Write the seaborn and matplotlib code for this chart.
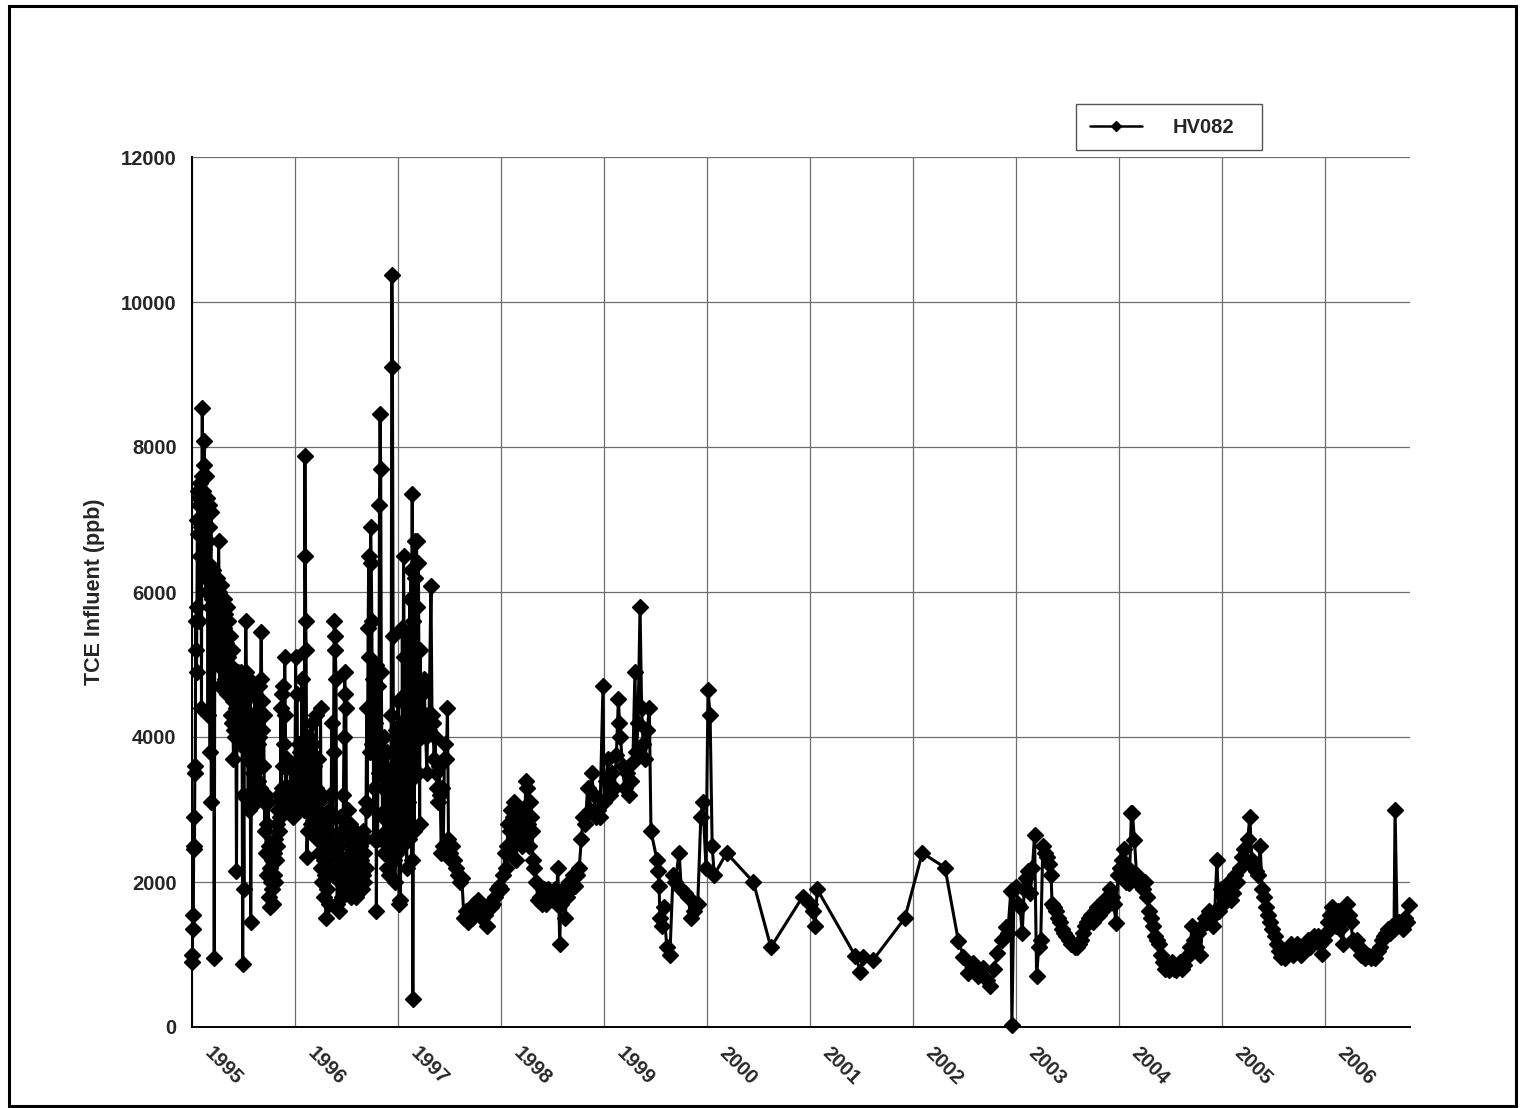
import matplotlib
matplotlib.use("Agg")
import matplotlib.pyplot as plt
import matplotlib.transforms as mtransforms
from matplotlib.patches import Rectangle
import pandas as pd
import seaborn as sns

# Sampling dates (decimal years) and TCE influent concentrations (ppb), well HV082
t1995 = [1995.000, 1995.004, 1995.008, 1995.012, 1995.016, 1995.020, 1995.024, 1995.028, 1995.032, 1995.036,
         1995.040, 1995.044, 1995.048, 1995.052, 1995.056, 1995.060, 1995.064, 1995.068, 1995.072, 1995.076,
         1995.080, 1995.084, 1995.088, 1995.092, 1995.096, 1995.100, 1995.104, 1995.108, 1995.112, 1995.116,
         1995.120, 1995.124, 1995.128, 1995.132, 1995.136, 1995.140, 1995.144, 1995.148, 1995.152, 1995.156,
         1995.160, 1995.164, 1995.168, 1995.172, 1995.176, 1995.180, 1995.184, 1995.188, 1995.192, 1995.196,
         1995.200, 1995.205, 1995.210, 1995.216, 1995.222, 1995.228, 1995.234, 1995.240, 1995.246, 1995.252,
         1995.258, 1995.264, 1995.270, 1995.276, 1995.282, 1995.288, 1995.294, 1995.300, 1995.306, 1995.312,
         1995.318, 1995.324, 1995.330, 1995.336, 1995.342, 1995.348, 1995.354, 1995.360, 1995.366, 1995.372,
         1995.378, 1995.384, 1995.390, 1995.396, 1995.402, 1995.408, 1995.414, 1995.420, 1995.426, 1995.432,
         1995.438, 1995.444, 1995.450, 1995.456, 1995.462, 1995.468, 1995.474, 1995.480, 1995.486, 1995.492,
         1995.498, 1995.504, 1995.510, 1995.516, 1995.522, 1995.528, 1995.534, 1995.540, 1995.546, 1995.552,
         1995.558, 1995.564, 1995.570, 1995.576, 1995.582, 1995.588, 1995.594, 1995.600, 1995.606, 1995.612,
         1995.618, 1995.624, 1995.630, 1995.636, 1995.642, 1995.648, 1995.654, 1995.660, 1995.666, 1995.672,
         1995.678, 1995.684, 1995.690, 1995.696, 1995.702, 1995.708, 1995.714, 1995.720, 1995.726, 1995.732,
         1995.738, 1995.744, 1995.750, 1995.756, 1995.762, 1995.768, 1995.774, 1995.780, 1995.786, 1995.792,
         1995.798, 1995.804, 1995.810, 1995.816, 1995.822, 1995.828, 1995.834, 1995.840, 1995.846, 1995.852,
         1995.858, 1995.864, 1995.870, 1995.876, 1995.882, 1995.888, 1995.894, 1995.900, 1995.906, 1995.912,
         1995.918, 1995.924, 1995.930, 1995.936, 1995.942, 1995.948, 1995.954, 1995.960, 1995.966, 1995.972,
         1995.978, 1995.984, 1995.990, 1995.996]
v1995 = [900, 1000, 1550, 1350, 2450, 2900, 2500, 3600, 3500, 5600,
         5200, 4900, 5800, 7000, 7400, 6800, 7300, 5600, 7200, 6500,
         7500, 6900, 7300, 4400, 7600, 8540, 7200, 7400, 6600, 7750,
         8080, 7100, 6300, 7600, 6900, 6200, 7300, 6000, 6700, 4300,
         6400, 7200, 6900, 5800, 3800, 6300, 7100, 3100, 6100, 5900,
         6300, 6000, 5700, 950, 6200, 5800, 5300, 6200, 5600, 5000,
         6700, 6000, 4700, 5400, 6100, 5800, 5200, 4700, 5900, 5500,
         4800, 5700, 5300, 4600, 5800, 5100, 5600, 4900, 5400, 5000,
         4300, 5200, 4200, 4500, 3700, 4100, 4700, 4000, 4400, 2150,
         4600, 4900, 4300, 4800, 3900, 4500, 4700, 4900, 4200, 870,
         3200, 1900, 4800, 4500, 5600, 4900, 3700, 4200, 3200, 4800,
         3000, 4600, 1450, 3100, 4000, 3500, 4300, 3100, 3800, 4600,
         3600, 3100, 4200, 3900, 3400, 4700, 4000, 3300, 4800, 5450,
         4500, 4100, 3600, 4300, 3100, 2700, 3200, 2400, 2800, 2100,
         3100, 2500, 1800, 2200, 1650, 2000, 1900, 2300, 1700, 2100,
         2400, 2000, 2600, 2300, 2800, 2500, 3000, 2700, 3200, 2900,
         3100, 4400, 3300, 4600, 3600, 4700, 3900, 5100, 4300, 3200,
         3700, 3000, 3300, 3100, 3000, 3200, 3150, 3600, 3100, 3250,
         2900, 3100, 3200, 3300]

t1996 = [1996.000, 1996.006, 1996.012, 1996.018, 1996.024, 1996.030, 1996.036, 1996.042, 1996.048, 1996.054,
         1996.060, 1996.066, 1996.072, 1996.078, 1996.084, 1996.090, 1996.096, 1996.100, 1996.104, 1996.108,
         1996.112, 1996.116, 1996.122, 1996.128, 1996.134, 1996.140, 1996.146, 1996.152, 1996.158, 1996.164,
         1996.170, 1996.176, 1996.182, 1996.188, 1996.194, 1996.200, 1996.206, 1996.212, 1996.218, 1996.224,
         1996.230, 1996.236, 1996.242, 1996.248, 1996.254, 1996.260, 1996.266, 1996.272, 1996.278, 1996.284,
         1996.290, 1996.296, 1996.302, 1996.308, 1996.314, 1996.320, 1996.326, 1996.332, 1996.338, 1996.344,
         1996.350, 1996.356, 1996.362, 1996.368, 1996.374, 1996.380, 1996.386, 1996.392, 1996.398, 1996.404,
         1996.410, 1996.416, 1996.422, 1996.428, 1996.434, 1996.440, 1996.446, 1996.452, 1996.458, 1996.464,
         1996.470, 1996.476, 1996.482, 1996.488, 1996.494, 1996.500, 1996.506, 1996.512, 1996.518, 1996.524,
         1996.530, 1996.536, 1996.542, 1996.548, 1996.554, 1996.560, 1996.566, 1996.572, 1996.578, 1996.584,
         1996.590, 1996.596, 1996.602, 1996.608, 1996.614, 1996.620, 1996.626, 1996.632, 1996.638, 1996.644,
         1996.650, 1996.656, 1996.662, 1996.668, 1996.674, 1996.680, 1996.686, 1996.690, 1996.696, 1996.702,
         1996.710, 1996.716, 1996.722, 1996.728, 1996.734, 1996.740, 1996.746, 1996.752, 1996.758, 1996.764,
         1996.770, 1996.776, 1996.782, 1996.790, 1996.796, 1996.802, 1996.808, 1996.814, 1996.820, 1996.826,
         1996.832, 1996.838, 1996.844, 1996.850, 1996.856, 1996.862, 1996.868, 1996.874, 1996.880, 1996.886,
         1996.892, 1996.898, 1996.904, 1996.910, 1996.916, 1996.922, 1996.928, 1996.934, 1996.940, 1996.946,
         1996.952, 1996.958, 1996.964, 1996.970, 1996.976, 1996.982, 1996.988, 1996.994]
v1996 = [3500, 5100, 3200, 4600, 3600, 3000, 3900, 3400, 3800, 3100,
         3500, 4800, 3300, 3700, 3000, 3500, 7870, 6500, 5600, 5200,
         4000, 2350, 2700, 3500, 4000, 3100, 3800, 2800, 3400, 4200,
         3100, 3900, 2900, 3600, 2700, 3300, 4300, 3000, 2600, 3700,
         2400, 3100, 2900, 4400, 2200, 3200, 2000, 2800, 2300, 1800,
         2600, 2100, 1500, 2400, 1900, 2700, 3000, 1700, 2200, 3200,
         2500, 4200, 2900, 2100, 3800, 5600, 5400, 5200, 4800, 2400,
         1700, 2200, 2600, 1600, 2000, 2900, 2300, 1800, 2700, 2100,
         3200, 4000, 4900, 4600, 4400, 2800, 2200, 3000, 1900, 2500,
         2300, 2800, 1800, 2200, 2600, 2000, 2400, 1900, 2300, 2700,
         2100, 1800, 2400, 2000, 2600, 2200, 1900, 2500, 2100, 2300,
         1900, 2700, 2100, 2400, 2000, 2600, 2200, 3100, 4400, 3000,
         5500, 6500, 5100, 3800, 6900, 6400, 5600, 3900, 4800, 2600,
         3300, 4200, 5000, 1600, 3800, 2600, 4700, 3500, 7200, 8450,
         7700, 4900, 3600, 2900, 3300, 2400, 4000, 3000, 2700, 3400,
         2200, 3800, 2500, 3100, 2100, 3500, 2600, 4300, 10370, 9100,
         5400, 2300, 3600, 2000, 4100, 2800, 3300, 2400]

t1997 = [1997.000, 1997.006, 1997.012, 1997.018, 1997.024, 1997.030, 1997.036, 1997.042, 1997.048, 1997.054,
         1997.060, 1997.066, 1997.072, 1997.078, 1997.084, 1997.090, 1997.096, 1997.102, 1997.108, 1997.114,
         1997.120, 1997.126, 1997.132, 1997.138, 1997.144, 1997.150, 1997.156, 1997.162, 1997.168, 1997.174,
         1997.180, 1997.186, 1997.192, 1997.198, 1997.204, 1997.210, 1997.216, 1997.222, 1997.230, 1997.240,
         1997.250, 1997.256, 1997.262, 1997.270, 1997.280, 1997.290, 1997.300, 1997.320, 1997.330, 1997.340,
         1997.350, 1997.360, 1997.370, 1997.380, 1997.390, 1997.400, 1997.410, 1997.420, 1997.430, 1997.440,
         1997.450, 1997.460, 1997.470, 1997.480, 1997.490, 1997.500, 1997.510, 1997.520, 1997.540, 1997.560,
         1997.580, 1997.600, 1997.620, 1997.640, 1997.660, 1997.680, 1997.700, 1997.720, 1997.740, 1997.760,
         1997.780, 1997.800, 1997.820, 1997.840, 1997.860, 1997.880, 1997.900, 1997.920, 1997.940, 1997.960,
         1997.980]
v1997 = [4500, 2900, 1700, 3600, 1750, 4200, 2500, 5500, 3300, 6500,
         5100, 2700, 4600, 3900, 2200, 5400, 3100, 4900, 2600, 5900,
         3400, 6300, 2300, 7350, 380, 5600, 2700, 6200, 6700, 4300,
         6700, 5800, 3500, 6400, 4800, 2800, 5200, 4000, 4600, 4200,
         4800, 4700, 4300, 4000, 3500, 4300, 4100, 6080, 4300, 4200,
         3700, 4000, 3500, 3300, 3100, 3600, 3200, 2400, 3300, 2500,
         3700, 3900, 3700, 4400, 2600, 2400, 2300, 2500, 2300, 2200,
         2100, 2000, 2050, 1500, 1600, 1450, 1550, 1500, 1700, 1600,
         1750, 1650, 1500, 1550, 1400, 1700, 1650, 1700, 1800, 1900,
         1950]

t1998 = [1998.000, 1998.020, 1998.040, 1998.050, 1998.060, 1998.070, 1998.080, 1998.090, 1998.100, 1998.110,
         1998.120, 1998.130, 1998.140, 1998.150, 1998.160, 1998.170, 1998.180, 1998.190, 1998.200, 1998.210,
         1998.220, 1998.230, 1998.240, 1998.250, 1998.260, 1998.270, 1998.280, 1998.290, 1998.300, 1998.310,
         1998.320, 1998.340, 1998.360, 1998.380, 1998.400, 1998.420, 1998.440, 1998.460, 1998.480, 1998.500,
         1998.520, 1998.540, 1998.550, 1998.560, 1998.570, 1998.580, 1998.600, 1998.620, 1998.640, 1998.660,
         1998.680, 1998.700, 1998.720, 1998.740, 1998.760, 1998.780, 1998.800, 1998.820, 1998.840, 1998.860,
         1998.880, 1998.900, 1998.920, 1998.940, 1998.960, 1998.990]
v1998 = [1900, 2100, 2400, 2200, 2500, 2800, 2400, 2700, 3000, 2500,
         2900, 3100, 2700, 2300, 2800, 3000, 2600, 2900, 2500, 2800,
         3000, 2600, 3400, 3300, 2800, 2500, 3100, 2900, 2700, 2300,
         2200, 2000, 1750, 1800, 1700, 1900, 1700, 1900, 1800, 1750,
         1900, 1700, 2200, 1800, 1150, 1700, 1900, 1500, 1800, 2000,
         1900, 2100, 1950, 2100, 2200, 2600, 2900, 2800, 3300, 3000,
         3500, 3200, 2900, 3000, 2900, 4700]

t1999 = [1999.000, 1999.020, 1999.040, 1999.060, 1999.080, 1999.100, 1999.120, 1999.140, 1999.150, 1999.160,
         1999.180, 1999.200, 1999.220, 1999.240, 1999.260, 1999.280, 1999.300, 1999.315, 1999.330, 1999.350,
         1999.365, 1999.380, 1999.400, 1999.420, 1999.440, 1999.456, 1999.515, 1999.525, 1999.534, 1999.544,
         1999.560, 1999.580, 1999.610, 1999.640, 1999.670, 1999.690, 1999.730, 1999.750, 1999.790, 1999.820,
         1999.840, 1999.870, 1999.910, 1999.940, 1999.960, 1999.990]
v1999 = [3100, 3400, 3700, 3200, 3500, 3300, 3750, 4530, 4200, 4000,
         3600, 3300, 3500, 3200, 3400, 3650, 4900, 3800, 4200, 5800,
         4400, 3900, 3700, 4100, 4400, 2700, 2300, 2150, 1950, 1500,
         1400, 1650, 1100, 1000, 2100, 2000, 2400, 1900, 1850, 1800,
         1500, 1600, 1700, 2900, 3100, 2200]

t2000_02 = [2000.010, 2000.030, 2000.050, 2000.070, 2000.190, 2000.450, 2000.620, 2000.930, 2001.000, 2001.030,
            2001.050, 2001.070, 2001.440, 2001.490, 2001.510, 2001.610, 2001.920, 2002.090, 2002.310, 2002.440,
            2002.490, 2002.530, 2002.580, 2002.630, 2002.680, 2002.720, 2002.750, 2002.790, 2002.820, 2002.860,
            2002.900, 2002.920, 2002.950, 2002.960, 2002.980]
v2000_02 = [4650, 4300, 2500, 2100, 2400, 2000, 1100, 1800, 1700, 1600,
            1400, 1900, 980, 760, 970, 920, 1500, 2400, 2200, 1190,
            970, 740, 880, 700, 820, 650, 560, 800, 1020, 1200,
            1380, 1300, 1880, 25, 1900]

t2003 = [2003.00, 2003.02, 2003.04, 2003.06, 2003.08, 2003.10, 2003.12, 2003.14, 2003.16, 2003.18,
         2003.20, 2003.22, 2003.24, 2003.26, 2003.28, 2003.30, 2003.32, 2003.34, 2003.35, 2003.37,
         2003.39, 2003.41, 2003.43, 2003.45, 2003.47, 2003.49, 2003.51, 2003.53, 2003.55, 2003.57,
         2003.59, 2003.61, 2003.63, 2003.65, 2003.67, 2003.69, 2003.71, 2003.73, 2003.75, 2003.77,
         2003.79, 2003.81, 2003.83, 2003.85, 2003.87, 2003.89, 2003.91, 2003.93, 2003.95, 2003.97,
         2003.99]
v2003 = [1930, 1700, 1650, 1290, 1900, 2050, 2150, 1850, 2200, 2650,
         700, 1100, 1200, 2500, 2400, 2350, 2250, 2100, 1700, 1650,
         1600, 1500, 1450, 1350, 1300, 1250, 1200, 1150, 1150, 1100,
         1100, 1150, 1200, 1300, 1400, 1450, 1500, 1550, 1450, 1600,
         1650, 1550, 1700, 1750, 1650, 1800, 1900, 1800, 1700, 1430,
         2100]

t2004 = [2004.01, 2004.03, 2004.05, 2004.07, 2004.09, 2004.10, 2004.12, 2004.13, 2004.15, 2004.17,
         2004.19, 2004.21, 2004.23, 2004.25, 2004.27, 2004.29, 2004.31, 2004.33, 2004.35, 2004.37,
         2004.39, 2004.41, 2004.43, 2004.45, 2004.47, 2004.49, 2004.51, 2004.53, 2004.55, 2004.57,
         2004.59, 2004.61, 2004.63, 2004.65, 2004.67, 2004.69, 2004.71, 2004.73, 2004.75, 2004.77,
         2004.79, 2004.81, 2004.83, 2004.85, 2004.87, 2004.89, 2004.91, 2004.93, 2004.95, 2004.97,
         2004.99]
v2004 = [2200, 2300, 2450, 2000, 2200, 1980, 2950, 2950, 2580, 2100,
         2000, 1950, 1900, 2000, 1800, 1600, 1500, 1400, 1250, 1200,
         1150, 1000, 900, 800, 850, 780, 900, 800, 780, 850,
         900, 800, 850, 950, 1000, 1100, 1400, 1200, 1100, 1300,
         1000, 1400, 1500, 1450, 1600, 1500, 1400, 1600, 2300, 1600,
         1900]

t2005 = [2005.01, 2005.03, 2005.05, 2005.07, 2005.09, 2005.11, 2005.13, 2005.15, 2005.17, 2005.19,
         2005.21, 2005.23, 2005.25, 2005.27, 2005.29, 2005.31, 2005.33, 2005.35, 2005.37, 2005.39,
         2005.41, 2005.43, 2005.45, 2005.47, 2005.49, 2005.51, 2005.53, 2005.55, 2005.57, 2005.59,
         2005.61, 2005.63, 2005.65, 2005.67, 2005.69, 2005.71, 2005.73, 2005.75, 2005.77, 2005.79,
         2005.81, 2005.83, 2005.85, 2005.87, 2005.89, 2005.91, 2005.93, 2005.95, 2005.97, 2005.99]
v2005 = [1700, 1800, 1900, 2000, 1750, 1850, 2100, 2000, 2200, 2350,
         2450, 2300, 2600, 2900, 2300, 2200, 2150, 2100, 2500, 1900,
         1800, 1650, 1550, 1450, 1350, 1250, 1150, 1050, 970, 1000,
         950, 1050, 1100, 1150, 1000, 1100, 1150, 1050, 1000, 1100,
         1150, 1200, 1100, 1150, 1250, 1200, 1250, 1150, 1010, 1200]

t2006 = [2006.01, 2006.03, 2006.05, 2006.07, 2006.09, 2006.11, 2006.13, 2006.15, 2006.17, 2006.19,
         2006.21, 2006.23, 2006.25, 2006.27, 2006.29, 2006.31, 2006.33, 2006.35, 2006.37, 2006.39,
         2006.41, 2006.43, 2006.45, 2006.47, 2006.49, 2006.51, 2006.53, 2006.55, 2006.57, 2006.59,
         2006.61, 2006.63, 2006.65, 2006.67, 2006.68, 2006.70, 2006.72, 2006.74, 2006.76, 2006.78,
         2006.80, 2006.82]
v2006 = [1300, 1450, 1550, 1650, 1500, 1400, 1600, 1350, 1150, 1500,
         1700, 1550, 1450, 1200, 1150, 1200, 1100, 1000, 1050, 950,
         1000, 980, 950, 1000, 950, 1050, 1100, 1200, 1250, 1300,
         1350, 1300, 1400, 1350, 3000, 1400, 1450, 1400, 1350, 1500,
         1450, 1680]

year_ticks = [1995, 1996, 1997, 1998, 1999, 2000, 2001, 2002, 2003, 2004, 2005, 2006]
year_labels = [str(y) for y in year_ticks]
conc_ticks = [0, 2000, 4000, 6000, 8000, 10000, 12000]

dates = t1995 + t1996 + t1997 + t1998 + t1999 + t2000_02 + t2003 + t2004 + t2005 + t2006
conc = v1995 + v1996 + v1997 + v1998 + v1999 + v2000_02 + v2003 + v2004 + v2005 + v2006
df = pd.DataFrame({"date": dates, "tce": conc})

sns.set_style("white")
plt.rcParams["font.family"] = ["Liberation Sans", "DejaVu Sans"]
plt.rcParams["font.weight"] = "bold"

W, H = 1524, 1108
fig = plt.figure(figsize=(W / 100, H / 100), dpi=100)
fig.patch.set_facecolor("white")

left, right, top, bottom = 192, 1410, 157, 1027
ax = fig.add_axes([left / W, 1 - bottom / H, (right - left) / W, (bottom - top) / H])

sns.lineplot(data=df, x="date", y="tce", ax=ax, color="black", linewidth=2.2,
             marker="D", markersize=7.8, markeredgecolor="black", markerfacecolor="black",
             markeredgewidth=1.0, estimator=None, sort=False, label="HV082", zorder=3)
for ln in ax.get_lines():
    ln.set_clip_on(False)

ax.set_xlim(1995.0, 2006.825)
ax.set_ylim(0, 12000)
ax.set_xticks(year_ticks)
ax.set_xticklabels(year_labels)
ax.set_yticks(conc_ticks)
ax.set_yticklabels([str(v) for v in conc_ticks])

ax.grid(True, color="#6e6e6e", linewidth=0.9, zorder=0)
ax.set_axisbelow(True)
for side in ("top", "right"):
    ax.spines[side].set_visible(False)
for side in ("left", "bottom"):
    ax.spines[side].set_color("black")
    ax.spines[side].set_linewidth(1.4)

ax.tick_params(axis="both", which="major", direction="out", length=5, width=1.0,
               color="black", labelsize=14.5)
ax.tick_params(axis="y", pad=6)
ax.tick_params(axis="x", pad=7)

offset = mtransforms.ScaledTranslation(16 / 72, 0, fig.dpi_scale_trans)
for lab in ax.get_xticklabels():
    lab.set_rotation(-45)
    lab.set_ha("left")
    lab.set_va("top")
    lab.set_rotation_mode("anchor")
    lab.set_fontweight("bold")
    lab.set_transform(lab.get_transform() + offset)
for lab in ax.get_yticklabels():
    lab.set_fontweight("bold")

ax.set_xlabel("")
ax.set_ylabel("TCE Influent (ppb)", fontsize=15.5, fontweight="bold")
ax.yaxis.set_label_coords((105 - left) / (right - left), 0.5)

leg = ax.legend(loc="upper left", bbox_to_anchor=(1076 / W, 1 - 148 / H, 186 / W, 44 / H),
                bbox_transform=fig.transFigure, mode="expand", frameon=True, fancybox=False,
                edgecolor="#555555", framealpha=1, handlelength=2.6, handletextpad=1.5,
                borderpad=0.68, borderaxespad=0, markerscale=0.7,
                prop={"weight": "bold", "size": 14.5})
leg.get_frame().set_linewidth(1.0)
for h in leg.get_lines():
    h.set_linewidth(1.8)

# outer frame around the whole figure
fig.patches.append(Rectangle((9 / W, 1 - 1106 / H), (1516 - 9) / W, (1106 - 6) / H,
                             transform=fig.transFigure, fill=False,
                             edgecolor="black", linewidth=2.2))

fig.savefig("out.png", dpi=100, facecolor="white")
